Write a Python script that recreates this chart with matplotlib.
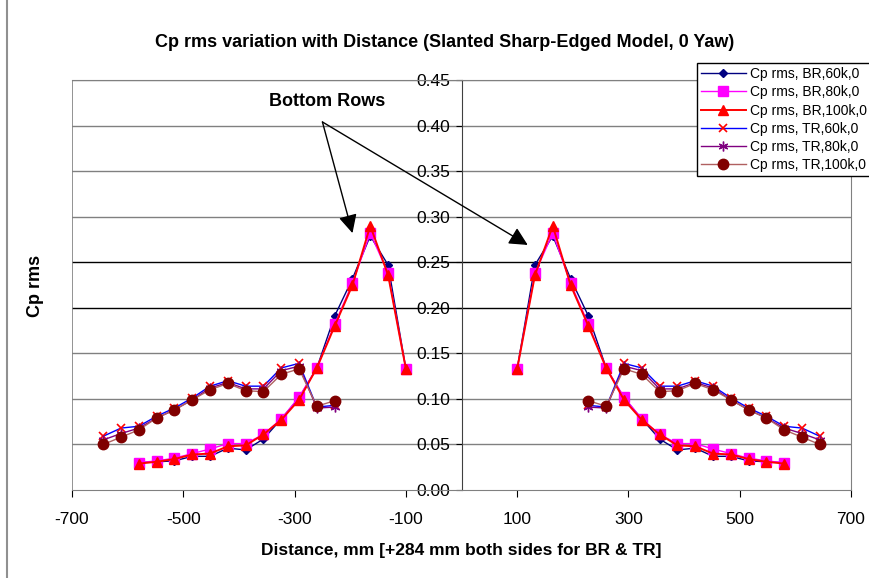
import numpy as np
import matplotlib
matplotlib.use("Agg")
import matplotlib.pyplot as plt

plt.rcParams['font.family'] = ['Liberation Sans', 'DejaVu Sans']
plt.rcParams['axes.unicode_minus'] = False

# distances (mm) on one side; the other side is the mirror image
dist_br = [100, 132, 164, 196, 228, 260, 292, 324, 356, 388, 420, 452, 484, 516, 548, 580]
dist_tr = [228, 260, 292, 324, 356, 388, 420, 452, 484, 516, 548, 580, 612, 644]

br_60k = [0.133, 0.247, 0.279, 0.232, 0.191, 0.134, 0.101, 0.078, 0.056, 0.044, 0.046, 0.037, 0.037, 0.032, 0.031, 0.030]
br_80k = [0.133, 0.238, 0.282, 0.227, 0.182, 0.134, 0.102, 0.078, 0.061, 0.051, 0.051, 0.045, 0.040, 0.035, 0.032, 0.030]
br_100k = [0.133, 0.236, 0.290, 0.225, 0.180, 0.134, 0.099, 0.077, 0.061, 0.049, 0.048, 0.040, 0.039, 0.034, 0.031, 0.029]

tr_60k = [0.093, 0.091, 0.139, 0.134, 0.114, 0.114, 0.120, 0.114, 0.101, 0.090, 0.081, 0.070, 0.068, 0.059]
tr_80k = [0.091, 0.090, 0.136, 0.131, 0.111, 0.111, 0.118, 0.112, 0.099, 0.088, 0.079, 0.068, 0.062, 0.055]
tr_100k = [0.098, 0.092, 0.133, 0.127, 0.108, 0.109, 0.117, 0.110, 0.099, 0.088, 0.079, 0.066, 0.058, 0.050]

labels = ['Cp rms, BR,60k,0', 'Cp rms, BR,80k,0', 'Cp rms, BR,100k,0',
          'Cp rms, TR,60k,0', 'Cp rms, TR,80k,0', 'Cp rms, TR,100k,0']


def both_sides(d, v):
    d = np.array(d, dtype=float)
    v = np.array(v, dtype=float)
    x = np.concatenate([-d[::-1], [np.nan], d])
    y = np.concatenate([v[::-1], [np.nan], v])
    return x, y


fig = plt.figure(figsize=(8.69, 5.78), dpi=100)
ax = fig.add_axes([0.0829, 0.1522, 0.8964, 0.7093])

yt = np.arange(0, 0.451, 0.05)
for g in yt[1:]:
    c = 'black' if abs(g - 0.20) < 1e-6 or abs(g - 0.25) < 1e-6 else '#808080'
    ax.axhline(g, color=c, lw=1.0, zorder=1)
ax.axvline(-700, color='#808080', lw=1.2, zorder=1)

styles = [
    dict(color='#000080', marker='D', ms=4.5, lw=1.0),
    dict(color='#FF00FF', marker='s', ms=7, lw=1.0),
    dict(color='#FF0000', marker='^', ms=7, lw=1.4),
    dict(color='#0000FF', marker='x', ms=6, mec='#FF0000', mew=1.2, lw=1.0),
    dict(color='#800080', marker=(6, 2, 0), ms=7, mew=1.0, lw=1.0),
    dict(color='#B06060', marker='o', ms=7.5, mfc='#800000', mec='#800000', lw=1.0),
]
series = [(dist_br, br_60k), (dist_br, br_80k), (dist_br, br_100k),
          (dist_tr, tr_60k), (dist_tr, tr_80k), (dist_tr, tr_100k)]
for (d, v), lab, st in zip(series, labels, styles):
    x, y = both_sides(d, v)
    ax.plot(x, y, label=lab, zorder=3, **st)

ax.set_xlim(-700, 700)
ax.set_ylim(0, 0.45)
ax.set_xticks([-700, -500, -300, -100, 100, 300, 500, 700])
ax.set_yticks(yt)
ax.set_yticklabels(['%.2f' % t for t in yt])
ax.spines['left'].set_position(('data', 0))
ax.spines['left'].set_color('#404040')
for s in ['bottom', 'right', 'top']:
    ax.spines[s].set_color('#808080')
ax.tick_params(axis='both', direction='out', labelsize=12.5, colors='black')
ax.tick_params(axis='y', length=4, pad=4)
ax.tick_params(axis='x', length=5, pad=11)
for s in ['bottom', 'left', 'right', 'top']:
    ax.spines[s].set_zorder(2)

ax.set_xlabel('Distance, mm [+284 mm both sides for BR & TR]', fontsize=12.5,
              fontweight='bold', labelpad=11)
fig.text(0.041, 0.505, 'Cp rms', rotation=90, fontsize=13, fontweight='bold',
         ha='center', va='center')
fig.text(0.512, 0.927, 'Cp rms variation with Distance (Slanted Sharp-Edged Model, 0 Yaw)',
         fontsize=13, fontweight='bold', ha='center', va='center')

ax.text(-242, 0.426, 'Bottom Rows', fontsize=13, fontweight='bold', ha='center', va='center')
arrow = dict(arrowstyle='-|>,head_length=0.8,head_width=0.4', color='black', lw=1,
             mutation_scale=14, shrinkA=0, shrinkB=0)
ax.annotate('', xy=(-196, 0.282), xytext=(-250, 0.404), arrowprops=arrow)
ax.annotate('', xy=(119, 0.269), xytext=(-250, 0.404), arrowprops=arrow)

leg = ax.legend(loc='upper left', bbox_to_anchor=(0.802, 0.891), bbox_transform=fig.transFigure,
                fontsize=10, handlelength=3.2, labelspacing=0.3, borderpad=0.3,
                handletextpad=0.3, borderaxespad=0, fancybox=False, framealpha=1)
leg.get_frame().set_edgecolor('black')
leg.get_frame().set_linewidth(1.0)
leg.set_zorder(5)

fig.add_artist(plt.Line2D([0.008, 0.008], [0, 1], transform=fig.transFigure, color='#909090', lw=1.5))

fig.savefig('out.png', dpi=100)
